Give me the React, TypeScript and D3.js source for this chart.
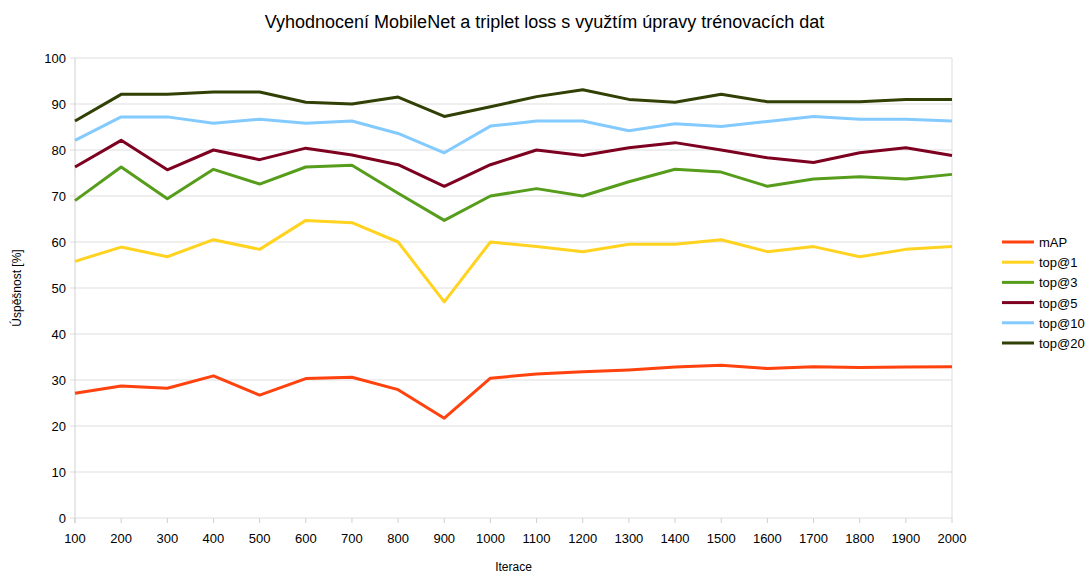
import React, { useEffect, useRef } from 'react';
import * as d3 from 'd3';

const iterations = [100, 200, 300, 400, 500, 600, 700, 800, 900, 1000, 1100, 1200, 1300, 1400, 1500, 1600, 1700, 1800, 1900, 2000];
const yTicks = [0, 10, 20, 30, 40, 50, 60, 70, 80, 90, 100];

const mAP = [27.1, 28.7, 28.2, 30.9, 26.7, 30.3, 30.6, 27.9, 21.7, 30.4, 31.3, 31.8, 32.2, 32.8, 33.2, 32.5, 32.9, 32.7, 32.8, 32.9];
const top1 = [55.8, 58.9, 56.8, 60.5, 58.4, 64.7, 64.2, 60.0, 47.0, 60.0, 59.0, 57.9, 59.5, 59.5, 60.5, 57.9, 59.0, 56.8, 58.4, 59.0];
const top3 = [69.0, 76.3, 69.4, 75.8, 72.6, 76.3, 76.7, 70.6, 64.7, 70.0, 71.6, 70.0, 73.1, 75.8, 75.2, 72.1, 73.7, 74.2, 73.7, 74.7];
const top5 = [76.3, 82.1, 75.7, 80.0, 77.9, 80.4, 78.9, 76.8, 72.1, 76.8, 80.0, 78.8, 80.5, 81.6, 80.0, 78.3, 77.3, 79.4, 80.5, 78.8];
const top10 = [82.1, 87.2, 87.2, 85.8, 86.7, 85.8, 86.3, 83.6, 79.4, 85.2, 86.3, 86.3, 84.2, 85.7, 85.1, 86.2, 87.3, 86.7, 86.7, 86.3];
const top20 = [86.3, 92.1, 92.1, 92.6, 92.6, 90.4, 90.0, 91.5, 87.3, 89.4, 91.6, 93.1, 91.0, 90.4, 92.1, 90.5, 90.5, 90.5, 91.0, 91.0];

const seriesNames = ['mAP', 'top@1', 'top@3', 'top@5', 'top@10', 'top@20'];
const seriesColors = ['#ff420e', '#ffd320', '#579d1c', '#7e0021', '#83caff', '#314004'];
const seriesValues = [mAP, top1, top3, top5, top10, top20];

const App: React.FC = () => {
  const svgRef = useRef<SVGSVGElement>(null);

  useEffect(() => {
    if (!svgRef.current) return;
    const svg = d3.select(svgRef.current);
    svg.selectAll('*').remove();

    const margin = { top: 58, right: 137, bottom: 56, left: 75 };
    const width = 1089;
    const height = 574;
    const font = '"Liberation Sans", Arial, sans-serif';

    const x = d3
      .scalePoint<number>()
      .domain(iterations)
      .range([margin.left, width - margin.right]);
    const y = d3.scaleLinear().domain([0, 100]).range([height - margin.bottom, margin.top]);

    // gridlines
    svg
      .append('g')
      .selectAll('line')
      .data(yTicks)
      .enter()
      .append('line')
      .attr('x1', margin.left - 5)
      .attr('x2', width - margin.right)
      .attr('y1', (d) => y(d))
      .attr('y2', (d) => y(d))
      .attr('stroke', '#dddddd')
      .attr('stroke-width', 1);

    // plot frame (left, right)
    svg
      .append('line')
      .attr('x1', margin.left)
      .attr('x2', margin.left)
      .attr('y1', margin.top)
      .attr('y2', height - margin.bottom + 5)
      .attr('stroke', '#d0d0d0');
    svg
      .append('line')
      .attr('x1', width - margin.right)
      .attr('x2', width - margin.right)
      .attr('y1', margin.top)
      .attr('y2', height - margin.bottom)
      .attr('stroke', '#dddddd');

    // x ticks
    svg
      .append('g')
      .selectAll('line')
      .data(iterations)
      .enter()
      .append('line')
      .attr('x1', (d) => x(d)!)
      .attr('x2', (d) => x(d)!)
      .attr('y1', height - margin.bottom)
      .attr('y2', height - margin.bottom + 5)
      .attr('stroke', '#d0d0d0');

    svg
      .append('g')
      .selectAll('text')
      .data(iterations)
      .enter()
      .append('text')
      .attr('x', (d) => x(d)!)
      .attr('y', height - margin.bottom + 25)
      .attr('text-anchor', 'middle')
      .attr('font-family', font)
      .attr('font-size', 13)
      .attr('fill', '#000')
      .text((d) => d);

    svg
      .append('g')
      .selectAll('text')
      .data(yTicks)
      .enter()
      .append('text')
      .attr('x', margin.left - 9)
      .attr('y', (d) => y(d) + 5)
      .attr('text-anchor', 'end')
      .attr('font-family', font)
      .attr('font-size', 13)
      .attr('fill', '#000')
      .text((d) => d);

    // lines
    const line = d3
      .line<number>()
      .x((_, i) => x(iterations[i])!)
      .y((d) => y(d));

    seriesValues.forEach((vals, i) => {
      svg
        .append('path')
        .datum(vals)
        .attr('d', line)
        .attr('fill', 'none')
        .attr('stroke', seriesColors[i])
        .attr('stroke-width', 3)
        .attr('stroke-linejoin', 'round');
    });

    // title & axis labels
    svg
      .append('text')
      .attr('x', width / 2)
      .attr('y', 28)
      .attr('text-anchor', 'middle')
      .attr('font-family', font)
      .attr('font-size', 18)
      .attr('fill', '#000')
      .text('Vyhodnocení MobileNet a triplet loss s využtím úpravy trénovacích dat');

    svg
      .append('text')
      .attr('x', (margin.left + width - margin.right) / 2)
      .attr('y', 571)
      .attr('text-anchor', 'middle')
      .attr('font-family', font)
      .attr('font-size', 12)
      .attr('fill', '#000')
      .text('Iterace');

    svg
      .append('text')
      .attr('transform', `translate(21, ${(margin.top + height - margin.bottom) / 2}) rotate(-90)`)
      .attr('text-anchor', 'middle')
      .attr('font-family', font)
      .attr('font-size', 12)
      .attr('fill', '#000')
      .text('Úspěšnost [%]');

    // legend
    const legend = svg
      .append('g')
      .selectAll('g')
      .data(seriesNames)
      .enter()
      .append('g')
      .attr('transform', (_, i) => `translate(1002, ${242 + i * 20.2})`);
    legend
      .append('line')
      .attr('x1', 0)
      .attr('x2', 32)
      .attr('stroke', (_, i) => seriesColors[i])
      .attr('stroke-width', 3);
    legend
      .append('text')
      .attr('x', 37)
      .attr('y', 5)
      .attr('font-family', font)
      .attr('font-size', 13)
      .attr('fill', '#000')
      .text((d) => d);
  }, []);

  return (
    <svg
      ref={svgRef}
      width={1089}
      height={574}
      style={{ position: 'absolute', left: 0, top: 0, background: '#fff' }}
    ></svg>
  );
};

export default App;
